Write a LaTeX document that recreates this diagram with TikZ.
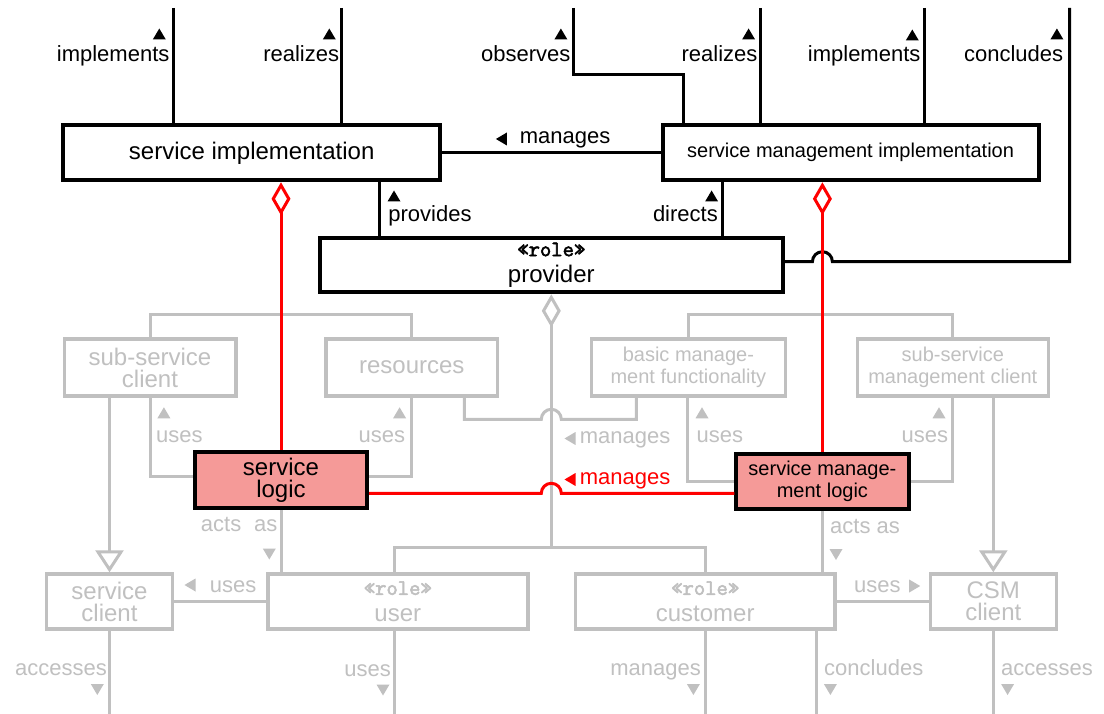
\documentclass[tikz,border=0pt]{standalone}
\usepackage{fontspec}
\setmainfont{Liberation Sans}
\newfontfamily\rolefont[FakeBold=2.5]{Latin Modern Mono}
\usetikzlibrary{arrows.meta,calc}
\definecolor{lg}{RGB}{192,192,192}
\definecolor{rd}{RGB}{255,0,0}
\definecolor{salmon}{RGB}{245,154,152}
\newcommand\rolelabel{{\fontsize{22}{20}\selectfont\rolefont «role»}}

\begin{document}
\begin{tikzpicture}[x=1pt,y=-1pt,
  fbig/.style={font=\fontsize{24}{22}\selectfont},
  fsmall/.style={font=\fontsize{20}{22}\selectfont},
  frole/.style={font=\fontsize{24}{26.5}\selectfont},
  bbox/.style={draw=black, line width=4, fill=white, inner sep=0, align=center, fbig},
  rbox/.style={bbox, fill=salmon},
  gbox/.style={draw=lg, text=lg, line width=3.5, fill=white, inner sep=0, align=center, fbig},
  lab/.style={inner sep=0, font=\fontsize{22}{22}\selectfont},
  glab/.style={lab, text=lg},
  rlab/.style={lab, text=rd},
  bline/.style={draw=black, line width=3},
  gline/.style={draw=lg, line width=3},
  rline/.style={draw=rd, line width=3},
  agg/.style={{Diamond[open,length=33pt,width=19pt]}-},
  gen/.style={-{Triangle[open,length=22pt,width=28pt]}},
  tup/.pic={\fill (-6.5,5.5) -- (6.5,5.5) -- (0,-5.5) -- cycle;},
  tdown/.pic={\fill (-6.5,-5.5) -- (6.5,-5.5) -- (0,5.5) -- cycle;},
  tleft/.pic={\fill (5.5,-6.5) -- (5.5,6.5) -- (-5.5,0) -- cycle;},
  tright/.pic={\fill (-5.5,-6.5) -- (-5.5,6.5) -- (5.5,0) -- cycle;},
]
\path[fill=white, use as bounding box] (0,0) rectangle (1104,714);

% ---------- classes ----------
\node[bbox, minimum width=376.6, minimum height=55] (si) at (251.7,152.8) {service implementation};
\node[bbox, fsmall, minimum width=376.2, minimum height=55] (smi) at (850.6,152.8) {service management implementation};
\node[bbox, frole, minimum width=462.6, minimum height=54.3] (prov) at (551.3,265.2) {\rolelabel\\provider};

\node[gbox, minimum width=171.5, minimum height=57] (ssc) at (150,367.5) {sub-service\\client};
\node[gbox, minimum width=171.5, minimum height=57] (res) at (411.8,367.5) {resources};
\node[gbox, fsmall, minimum width=194, minimum height=57] (bmf) at (688.4,367.5) {basic manage-\\ment functionality};
\node[gbox, fsmall, minimum width=191, minimum height=57] (ssmc) at (952.8,367.5) {sub-service\\management client};

\node[rbox, minimum width=172, minimum height=56] (sl) at (281,480) {service\\logic};
\node[rbox, fsmall, minimum width=172.3, minimum height=55.3] (sml) at (822.4,481.3) {service manage-\\ment logic};

\node[gbox, minimum width=126.2, minimum height=55] (sc) at (109.5,601.5) {service\\client};
\node[gbox, frole, minimum width=260, minimum height=55] (user) at (397.8,601.5) {\rolelabel\\user};
\node[gbox, frole, minimum width=259.8, minimum height=55] (cust) at (705.2,601.5) {\rolelabel\\customer};
\node[gbox, minimum width=126, minimum height=55] (csm) at (993.3,601.5) {CSM\\client};

% ---------- free ends ----------
\coordinate (t1) at (173.2,8);
\coordinate (t2) at (341.4,8);
\coordinate (t3) at (573.5,8);
\coordinate (t3b) at (683.9,75);
\coordinate (t4) at (760.1,8);
\coordinate (t5) at (924.9,8);
\coordinate (t6) at (1069.5,8);
\coordinate (b1) at (109.5,714);
\coordinate (b2) at (394.6,714);
\coordinate (b3) at (705.2,714);
\coordinate (b4) at (816.3,714);
\coordinate (b5) at (993.3,714);
\path (prov.south |- 0,547) coordinate (hub);

% ---------- light connectors ----------
\draw[gline] (ssc.north) |- (res.north |- 0,315) -- (res.north);
\draw[gline] (bmf.north) |- (ssmc.north |- 0,315) -- (ssmc.north);
\draw[gline] (ssc.south) |- (sl.west |- 0,476);
\draw[gline] (res.south) |- (sl.east |- 0,476);
\draw[gline] (bmf.south -| 687.5,0) |- (sml.west |- 0,481.7);
\draw[gline] (ssmc.south) |- (sml.east |- 0,481.7);
\draw[gline] (res.south -| 464.3,0) |- ($(hub |- 0,419.3)+(-10,0)$)
  arc[start angle=180, end angle=0, radius=10pt] -| (bmf.south -| 636.4,0);
\draw[gline, gen] (sc.north |- ssc.south) -- (sc.north);
\draw[gline, gen] (csm.north |- ssmc.south) -- (csm.north);
\draw[gline, agg] (prov.south) -- (hub);
\draw[gline] (user.north -| 394.6,0) |- (hub) -| (cust.north);
\draw[gline] (sl.south) -- (sl.south |- user.north);
\draw[gline] (sml.south) -- (sml.south |- cust.north);
\draw[gline] (user.west) -- (sc.east);
\draw[gline] (cust.east) -- (csm.west);
\draw[gline] (sc.south) -- (b1);
\draw[gline] (user.south -| b2) -- (b2);
\draw[gline] (cust.south) -- (b3);
\draw[gline] (cust.south -| b4) -- (b4);
\draw[gline] (csm.south) -- (b5);

% ---------- dark connectors ----------
\draw[bline] (t1) -- (t1 |- si.north);
\draw[bline] (t2) -- (t2 |- si.north);
\draw[bline] (t3) |- (t3b) -- (t3b |- smi.north);
\draw[bline] (t4) -- (t4 |- smi.north);
\draw[bline] (t5) -- (t5 |- smi.north);
\draw[bline] (t6) |- ($(sml.north |- 0,261.7)+(10,0)$)
  arc[start angle=0, end angle=180, radius=10pt] -- (prov.east |- 0,261.7);
\draw[bline] (smi.west) -- (si.east);
\draw[bline] (si.south -| 379.3,0) -- (prov.north -| 379.3,0);
\draw[bline] (smi.south -| 722.7,0) -- (prov.north -| 722.7,0);

% ---------- highlighted connectors ----------
\draw[rline, agg] (si.south -| sl.north) -- (sl.north);
\draw[rline, agg] (smi.south -| sml.north) -- (sml.north);
\draw[rline] (sl.east |- 0,493.3) -- ($(hub |- 0,493.3)+(-10,0)$)
  arc[start angle=180, end angle=0, radius=10pt] -- (sml.west |- 0,493.3);

% ---------- labels ----------
\node[lab, anchor=base east] (lt1) at (169.6,62) {implements};
\node[lab, anchor=base east] (lt2) at (339.3,62) {realizes};
\node[lab, anchor=base east] (lt3) at (570.6,62) {observes};
\node[lab, anchor=base east] (lt4) at (757.6,62) {realizes};
\node[lab, anchor=base east] (lt5) at (920.6,62) {implements};
\node[lab, anchor=base east] (lt6) at (1063.4,62) {concludes};
\pic at (159.3,34) {tup};
\pic at (329.3,34) {tup};
\pic at (560.9,34) {tup};
\pic at (748.6,34) {tup};
\pic at (912.3,35) {tup};
\pic at (1056.9,34) {tup};

\node[lab, anchor=base west] (lman) at (519.6,143.5) {manages};
\pic at (501.4,139) {tleft};
\node[lab, anchor=base west] (lprov) at (388.2,222) {provides};
\pic at (394,196) {tup};
\node[lab, anchor=base east] (ldir) at (718,222) {directs};
\pic at (711.6,196) {tup};

\node[glab, anchor=base west] (lu1) at (156,442.7) {uses};
\pic[lg] at (163.9,412.8) {tup};
\node[glab, anchor=base east] (lu2) at (405.4,442.7) {uses};
\pic[lg] at (399.6,412.8) {tup};
\node[glab, anchor=base west] (lu3) at (696.5,442.7) {uses};
\pic[lg] at (702,412.8) {tup};
\node[glab, anchor=base east] (lu4) at (948.3,442.7) {uses};
\pic[lg] at (939,412.8) {tup};
\node[glab, anchor=base west] (lgm) at (579.6,443) {manages};
\pic[lg] at (570,438.5) {tleft};
\node[rlab, anchor=base west] (lrm) at (579.6,484.5) {manages};
\pic[rd] at (570,479.5) {tleft};

\node[glab, anchor=base east] (la1) at (277.7,531.7) {acts\hspace{13pt}as};
\pic[lg] at (269.3,554) {tdown};
\node[glab, anchor=base west] (la2) at (830,533) {acts as};
\pic[lg] at (836,554.5) {tdown};

\node[glab, anchor=base west] (lu5) at (209.6,592) {uses};
\pic[lg] at (190,585) {tleft};
\node[glab, anchor=base west] (lu6) at (854,592) {uses};
\pic[lg] at (914.7,586) {tright};

\node[glab, anchor=base east] (lb1) at (107,675) {accesses};
\pic[lg] at (97.3,689.5) {tdown};
\node[glab, anchor=base east] (lb2) at (391,676.5) {uses};
\pic[lg] at (383,690) {tdown};
\node[glab, anchor=base east] (lb3) at (701,675) {manages};
\pic[lg] at (693.4,689.5) {tdown};
\node[glab, anchor=base west] (lb4) at (824,675) {concludes};
\pic[lg] at (830.4,689.5) {tdown};
\node[glab, anchor=base west] (lb5) at (1001,675) {accesses};
\pic[lg] at (1007.6,689.5) {tdown};
\end{tikzpicture}
\end{document}
